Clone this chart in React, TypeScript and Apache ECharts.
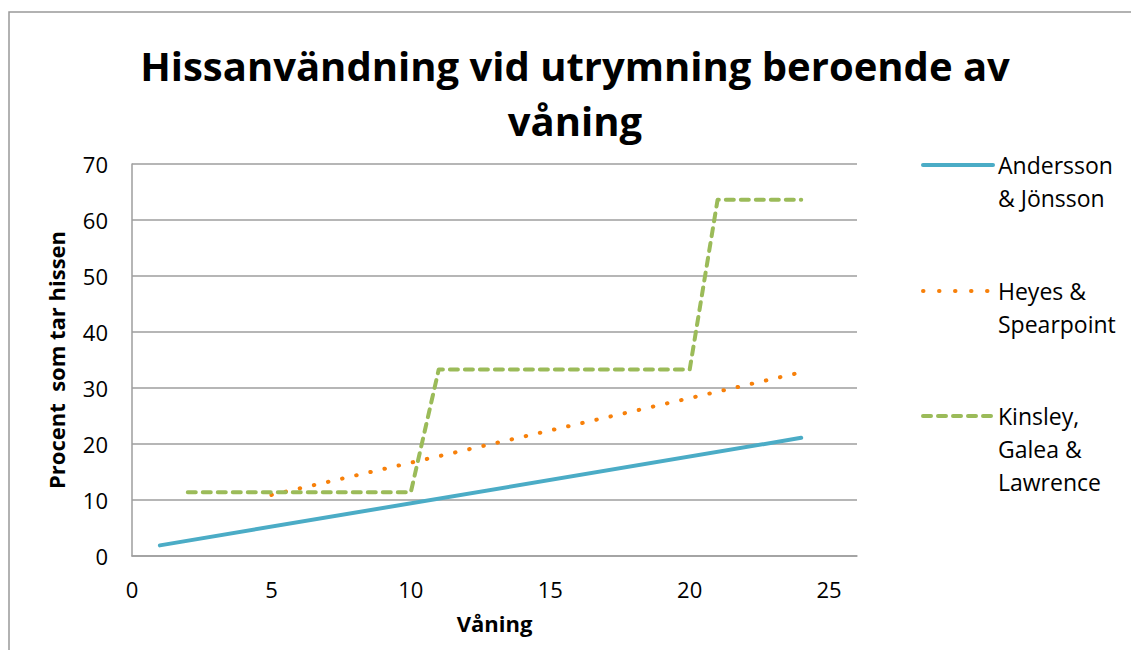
import React, { useEffect, useRef } from 'react';
import * as echarts from 'echarts';

const titleText = 'Hissanvändning vid utrymning beroende av\nvåning';
const xAxisName = 'Våning';
const yAxisName = 'Procent  som tar hissen';

const seriesNames = ['Andersson & Jönsson', 'Heyes & Spearpoint', 'Kinsley, Galea & Lawrence'];
const legendLabels = ['\nAndersson\n& Jönsson', '\nHeyes &\nSpearpoint', '\n\nKinsley,\nGalea &\nLawrence'];

const anderssonX = [1, 24];
const anderssonY = [1.9, 21.1];
const heyesX = [5, 24];
const heyesY = [10.9, 32.8];
const kinsleyX = [2, 10, 11, 20, 21, 24];
const kinsleyY = [11.4, 11.4, 33.3, 33.3, 63.6, 63.6];

const xTickLabels = [0, 5, 10, 15, 20, 25];
const yTickLabels = [0, 10, 20, 30, 40, 50, 60, 70];

const colors = ['#4BACC6', '#F7800A', '#9BBB59'];
const FONT = 'Open Sans';
const LH = 33;

const zip = (xs: number[], ys: number[]) => xs.map((x, i) => [x, ys[i]]);

export default function App() {
  const ref = useRef<HTMLDivElement>(null);
  useEffect(() => {
    document.body.style.margin = '0';
    const chart = echarts.init(ref.current!, undefined, { renderer: 'svg' });
    const legendBase = {
      orient: 'vertical',
      left: 921,
      itemWidth: 70,
      itemHeight: 14,
      padding: 0,
      selectedMode: false,
      itemStyle: { opacity: 0 },
      formatter: (name: string) => legendLabels[seriesNames.indexOf(name)],
      textStyle: { fontFamily: FONT, fontSize: 23, color: '#000', lineHeight: LH },
    };
    chart.setOption({
      animation: false,
      textStyle: { fontFamily: FONT },
      legend: [
        {
          ...legendBase,
          top: 165 - 1.5 * LH,
          lineStyle: { width: 4, cap: 'round' },
          data: [seriesNames[0]],
        },
        {
          ...legendBase,
          top: 291 - 1.5 * LH,
          lineStyle: { width: 4, cap: 'round', type: [0.5, 15.5] },
          data: [seriesNames[1]],
        },
        {
          ...legendBase,
          top: 416 - 2.5 * LH,
          lineStyle: { width: 4, cap: 'round', type: [8, 7] },
          data: [seriesNames[2]],
        },
      ],
      grid: { left: 132, top: 164, right: 274, bottom: 94, containLabel: false },
      xAxis: {
        type: 'value',
        min: 0,
        max: 26,
        interval: 5,
        name: xAxisName,
        nameLocation: 'middle',
        nameGap: 56,
        nameTextStyle: { fontFamily: FONT, fontSize: 22, fontWeight: 'bold', color: '#000' },
        axisLine: { show: true, lineStyle: { color: '#9E9E9E', width: 1.5 } },
        axisTick: { show: false },
        splitLine: { show: false },
        axisLabel: {
          margin: 22,
          fontFamily: FONT,
          fontSize: 22,
          color: '#000',
          formatter: (v: number) => (xTickLabels.includes(v) ? String(v) : ''),
        },
      },
      yAxis: {
        type: 'value',
        min: 0,
        max: 70,
        interval: 10,
        name: yAxisName,
        nameLocation: 'middle',
        nameGap: 65,
        nameTextStyle: { fontFamily: FONT, fontSize: 22, fontWeight: 'bold', color: '#000' },
        axisLine: { show: true, lineStyle: { color: '#9E9E9E', width: 1.5 } },
        axisTick: { show: false },
        splitLine: { show: true, lineStyle: { color: '#9E9E9E', width: 1.5 } },
        axisLabel: {
          margin: 24,
          fontFamily: FONT,
          fontSize: 22,
          color: '#000',
          formatter: (v: number) => (yTickLabels.includes(v) ? String(v) : ''),
        },
      },
      graphic: [
        {
          type: 'rect',
          shape: { x: 9, y: 12, width: 1400, height: 900 },
          style: { fill: 'none', stroke: '#999999', lineWidth: 1.5 },
          silent: true,
        },
        {
          type: 'text',
          x: 575,
          y: 38,
          style: {
            text: titleText,
            align: 'center',
            verticalAlign: 'top',
            fontFamily: FONT,
            fontSize: 40,
            fontWeight: 'bold',
            lineHeight: 55,
            fill: '#000',
          },
        },
      ],
      series: [
        {
          name: seriesNames[0],
          type: 'line',
          data: zip(anderssonX, anderssonY),
          symbol: 'none',
          color: colors[0],
          lineStyle: { color: colors[0], width: 4, cap: 'round' },
        },
        {
          name: seriesNames[1],
          type: 'line',
          data: zip(heyesX, heyesY),
          symbol: 'none',
          color: colors[1],
          lineStyle: { color: colors[1], width: 4, type: [0.5, 14], cap: 'round' },
        },
        {
          name: seriesNames[2],
          type: 'line',
          data: zip(kinsleyX, kinsleyY),
          symbol: 'none',
          color: colors[2],
          lineStyle: { color: colors[2], width: 4, type: [8, 7], cap: 'round', join: 'round' },
        },
      ],
    });
    return () => chart.dispose();
  }, []);
  return <div ref={ref} style={{ position: 'absolute', left: 0, top: 0, width: 1131, height: 650 }} />;
}
